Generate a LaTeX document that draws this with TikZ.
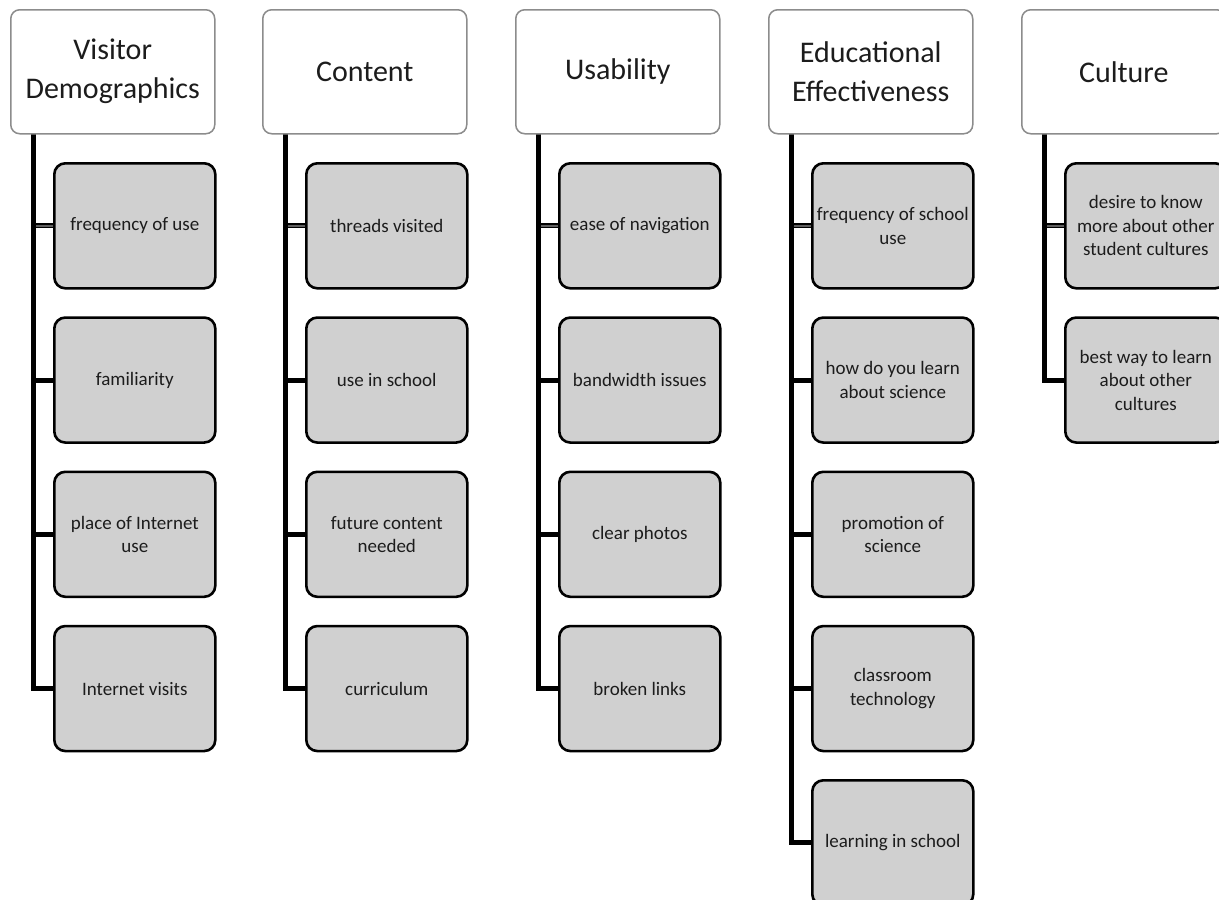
\documentclass[tikz,border=0pt]{standalone}
\usepackage{fontspec}
\setmainfont{Carlito}
\usetikzlibrary{backgrounds}
\definecolor{headline}{RGB}{140,140,140}
\definecolor{itemfill}{RGB}{208,208,208}
\definecolor{txt}{RGB}{28,28,28}
\definecolor{linkmid}{RGB}{95,95,95}
\begin{document}
\begin{tikzpicture}[x=1pt,y=-1pt,
  head/.style={draw=headline, line width=1.5pt, fill=white, rounded corners=9pt,
    minimum width=204pt, minimum height=124pt, anchor=north west, align=center,
    font=\fontsize{30}{39}\selectfont, text=txt, inner sep=0pt},
  item/.style={draw=black, line width=2.6pt, fill=itemfill, rounded corners=11pt,
    minimum width=161pt, minimum height=125pt, anchor=north west, align=center,
    font=\fontsize{19}{23.5}\selectfont, text=txt, inner sep=0pt},
  trunk/.style={line width=5pt, black, line join=miter},
  link/.style={line width=5pt, black},
  linkcore/.style={line width=2pt, linkmid}]
\useasboundingbox (0,0) rectangle (1219,900);

% column headers
\node[head] (h1) at (10,9)   {Visitor\\Demographics};
\node[head] (h2) at (262,9)  {Content};
\node[head] (h3) at (515,9)  {Usability};
\node[head] (h4) at (768,9)  {Educational\\Effectiveness};
\node[head] (h5) at (1021,9) {Culture};

% trunk start points below each header
\coordinate (t1) at (33,133);
\coordinate (t2) at (285,133);
\coordinate (t3) at (538,133);
\coordinate (t4) at (791,133);
\coordinate (t5) at (1044,133);

% column 1
\node[item] (c1a) at (53,162)    {frequency of use};
\node[item] (c1b) at (53,316.25) {familiarity};
\node[item] (c1c) at (53,470.5)  {place of Internet\\use};
\node[item] (c1d) at (53,624.75) {Internet visits};

% column 2
\node[item] (c2a) at (305,162)    {threads visited};
\node[item] (c2b) at (305,316.25) {use in school};
\node[item] (c2c) at (305,470.5)  {future content\\needed};
\node[item] (c2d) at (305,624.75) {curriculum};

% column 3
\node[item] (c3a) at (558,162)    {ease of navigation};
\node[item] (c3b) at (558,316.25) {bandwidth issues};
\node[item] (c3c) at (558,470.5)  {clear photos};
\node[item] (c3d) at (558,624.75) {broken links};

% column 4
\node[item] (c4a) at (811,162)    {frequency of school\\use};
\node[item] (c4b) at (811,316.25) {how do you learn\\about science};
\node[item] (c4c) at (811,470.5)  {promotion of\\science};
\node[item] (c4d) at (811,624.75) {classroom\\technology};
\node[item] (c4e) at (811,779)    {learning in school};

% column 5
\node[item] (c5a) at (1064,162)    {desire to know\\more about other\\student cultures};
\node[item] (c5b) at (1064,316.25) {best way to learn\\about other\\cultures};

\begin{scope}[on background layer]
  % vertical trunks
  \draw[trunk] (t1) |- (c1d.west);
  \draw[trunk] (t2) |- (c2d.west);
  \draw[trunk] (t3) |- (c3d.west);
  \draw[trunk] (t4) |- (c4e.west);
  \draw[trunk] (t5) |- (c5b.west);
  % branches
  \foreach \c/\t in {c1b/t1,c1c/t1,
                     c2b/t2,c2c/t2,
                     c3b/t3,c3c/t3,
                     c4b/t4,c4c/t4,c4d/t4}
    \draw[link] (\c.west) -- (\c.west -| \t);
  % first branch of each column has a grey core
  \foreach \c/\t in {c1a/t1,c2a/t2,c3a/t3,c4a/t4,c5a/t5}{
    \draw[link] (\c.west) -- (\c.west -| \t);
    \draw[linkcore] (\c.west) -- ([xshift=3pt]\c.west -| \t);
  }
\end{scope}
\end{tikzpicture}
\end{document}
